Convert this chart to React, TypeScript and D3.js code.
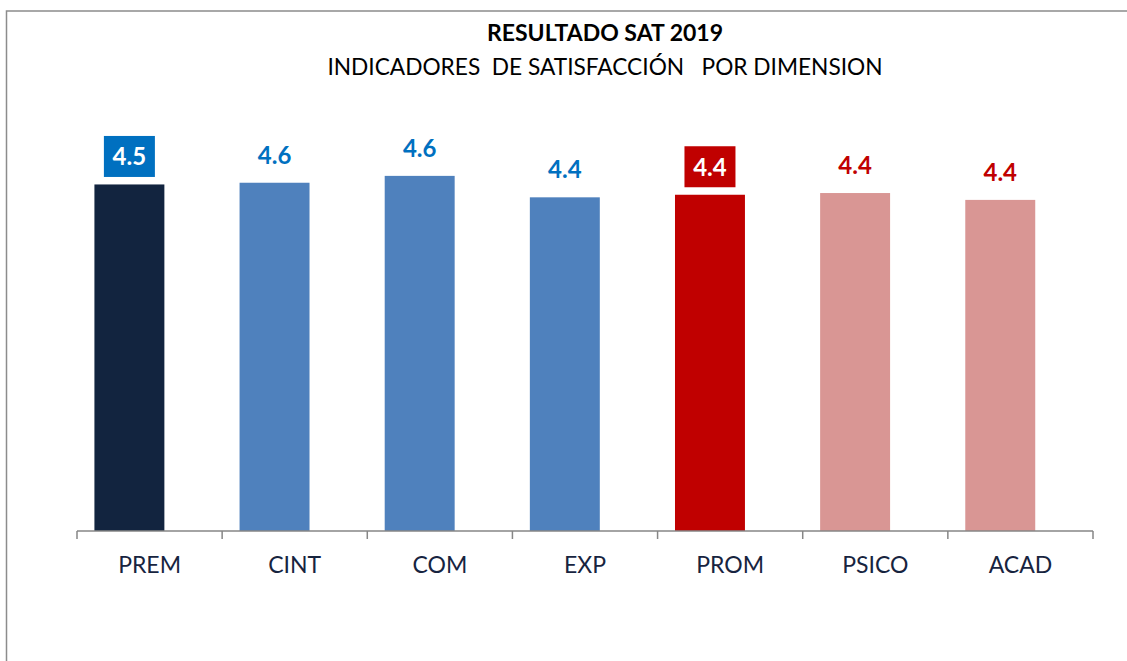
import React from "react";
import * as d3 from "d3";

const categories = ["PREM", "CINT", "COM", "EXP", "PROM", "PSICO", "ACAD"];
const values = [4.54, 4.56, 4.64, 4.39, 4.42, 4.44, 4.36];
const barColors = ["#12243F", "#4F81BD", "#4F81BD", "#4F81BD", "#C00000", "#D99694", "#D99694"];
const labelColors = ["#FFFFFF", "#0070C0", "#0070C0", "#0070C0", "#FFFFFF", "#C00000", "#C00000"];
const labelBoxes = ["#0070C0", null, null, null, "#C00000", null, null];
const title = "RESULTADO SAT 2019";
const subtitle = "INDICADORES  DE SATISFACCIÓN   POR DIMENSION";
const yDomain = [0.5, 5];

const W = 1127;
const H = 661;
const FONT = "Lato, 'Open Sans', sans-serif";

export default function App() {
  const x = d3.scaleBand<string>().domain(categories).range([77, 1093]).padding(0);
  const y = d3.scaleLinear().domain(yDomain).range([531, 145]);
  const bw = x.bandwidth();
  const y0 = y(yDomain[0]);
  const fmt = d3.format(".1f");

  return (
    <svg
      width={W}
      height={H}
      style={{ position: "absolute", left: 0, top: 0, display: "block", background: "#fff" }}
    >
      <rect x={6.5} y={11} width={1300} height={800} fill="none" stroke="#8c8c8c" strokeWidth={1.5} />
      <text x={605} y={41} textAnchor="middle" fontFamily={FONT} fontWeight={700} fontSize={23} fill="#000">
        {title}
      </text>
      <text
        x={605}
        y={75}
        textAnchor="middle"
        fontFamily={FONT}
        fontSize={22.7}
        fill="#000"
        style={{ whiteSpace: "pre" }}
      >
        {subtitle}
      </text>
      {categories.map((c, i) => {
        const bx = (x(c) as number) + bw * 0.12;
        const w = bw * 0.482;
        const top = y(values[i]);
        const cx = bx + w / 2;
        const base = top - 19;
        return (
          <g key={c}>
            <rect x={bx} y={top} width={w} height={y0 - top} fill={barColors[i]} />
            {labelBoxes[i] && (
              <rect x={cx - 25.5} y={base - 29.5} width={51} height={41} fill={labelBoxes[i] as string} />
            )}
            <text
              x={cx}
              y={base}
              textAnchor="middle"
              fontFamily={FONT}
              fontWeight={700}
              fontSize={24}
              fill={labelColors[i]}
            >
              {fmt(values[i])}
            </text>
            <text
              x={(x(c) as number) + bw / 2}
              y={573}
              textAnchor="middle"
              fontFamily={FONT}
              fontSize={23}
              fill="#17243F"
            >
              {c}
            </text>
          </g>
        );
      })}
      <line x1={77} x2={1093} y1={531} y2={531} stroke="#868686" strokeWidth={1.5} />
      {d3.range(categories.length + 1).map((i) => (
        <line
          key={i}
          x1={77 + i * bw}
          x2={77 + i * bw}
          y1={531}
          y2={539}
          stroke="#868686"
          strokeWidth={1.5}
        />
      ))}
    </svg>
  );
}
